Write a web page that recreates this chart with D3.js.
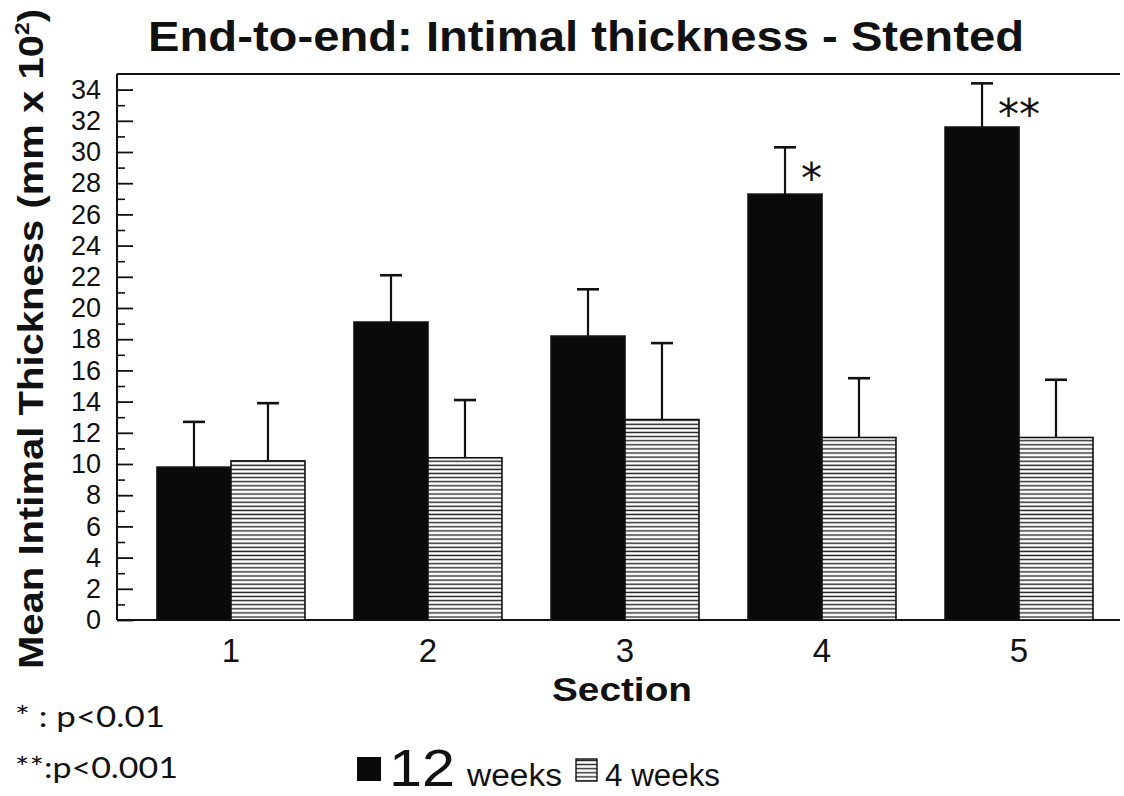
<!DOCTYPE html>
<html>
<head>
<meta charset="utf-8">
<script src="https://cdn.jsdelivr.net/npm/d3@7"></script>
<style>
  body { margin: 0; background: #fff; }
  text { font-family: "Liberation Sans", Arial, sans-serif; fill: #111; }
</style>
</head>
<body>
<svg id="chart" width="1124" height="796"></svg>
<script>
// values (mm x 10^2)
var sections = ["1", "2", "3", "4", "5"];
var mean12 = [9.8, 19.1, 18.2, 27.3, 31.6];
var err12  = [2.9, 3.0, 3.0, 3.0, 2.8];
var mean4  = [10.2, 10.4, 12.85, 11.7, 11.7];
var err4   = [3.7, 3.7, 4.9, 3.8, 3.7];
var sigMarks = ["", "", "", "*", "**"];
var groups = ["12 weeks", "4 weeks"];
var yTicks = d3.range(0, 35, 2);

var svg = d3.select("#chart");
var plotLeft = 117, plotRight = 1120, plotTop = 74, plotBottom = 620;

// hatch for the 4 week bars
var defs = svg.append("defs");
var pat = defs.append("pattern")
  .attr("id", "hatch")
  .attr("patternUnits", "userSpaceOnUse")
  .attr("width", 8).attr("height", 4.1);
pat.append("rect").attr("width", 8).attr("height", 4.1).attr("fill", "#fff");
pat.append("line")
  .attr("x1", 0).attr("x2", 8).attr("y1", 2).attr("y2", 2)
  .attr("stroke", "#222").attr("stroke-width", 1.4);

var y = d3.scaleLinear().domain([0, 35]).range([plotBottom, plotTop]);
var x = d3.scaleBand().domain(sections).range([157, 1093])
  .paddingInner(0.249).paddingOuter(0);
var xSub = d3.scaleBand().domain(groups).range([0, x.bandwidth()]);

// frame: top line and baseline
svg.append("line").attr("x1", plotLeft).attr("x2", plotRight)
  .attr("y1", plotTop).attr("y2", plotTop).attr("stroke", "#111").attr("stroke-width", 2);
svg.append("line").attr("x1", plotLeft).attr("x2", plotRight)
  .attr("y1", plotBottom).attr("y2", plotBottom).attr("stroke", "#111").attr("stroke-width", 2);

// minor ticks every 1
svg.append("g")
  .attr("transform", "translate(" + plotLeft + ",0)")
  .call(d3.axisLeft(y).tickValues(d3.range(1, 35, 2)).tickSize(-8).tickFormat(""))
  .call(function(g) { g.select(".domain").remove(); })
  .selectAll("line").attr("stroke", "#111").attr("stroke-width", 1.6);

// major ticks + labels
var yAxis = svg.append("g")
  .attr("transform", "translate(" + plotLeft + ",0)")
  .call(d3.axisLeft(y).tickValues(yTicks).tickSize(-16).tickPadding(16).tickSizeOuter(0));
yAxis.select(".domain").attr("stroke", "#111").attr("stroke-width", 2)
  .attr("d", "M0," + plotTop + "V" + plotBottom);
yAxis.selectAll(".tick line").attr("stroke", "#111").attr("stroke-width", 1.8);
yAxis.selectAll(".tick text")
  .style("font-size", "27px").style("font-family", "Liberation Sans, Arial").attr("fill", "#111");

// x labels
var xAxis = svg.append("g")
  .attr("transform", "translate(0," + plotBottom + ")")
  .call(d3.axisBottom(x).tickSize(0).tickPadding(19));
xAxis.select(".domain").remove();
xAxis.selectAll(".tick text")
  .style("font-size", "33px").style("font-family", "Liberation Sans, Arial").attr("fill", "#111");

// bars
var rows = sections.map(function(s, i) {
  return [
    { sec: s, grp: groups[0], v: mean12[i], e: err12[i], sig: sigMarks[i] },
    { sec: s, grp: groups[1], v: mean4[i], e: err4[i], sig: "" }
  ];
});

var g = svg.selectAll("g.section").data(rows).join("g")
  .attr("class", "section")
  .attr("transform", function(d) { return "translate(" + x(d[0].sec) + ",0)"; });

// error bars first (behind the bars)
g.selectAll("line.err").data(function(d) { return d; }).join("line")
  .attr("class", "err")
  .attr("x1", function(d) { return xSub(d.grp) + xSub.bandwidth() / 2; })
  .attr("x2", function(d) { return xSub(d.grp) + xSub.bandwidth() / 2; })
  .attr("y1", function(d) { return y(d.v); })
  .attr("y2", function(d) { return y(d.v + d.e); })
  .attr("stroke", "#111").attr("stroke-width", 2.2);
g.selectAll("line.cap").data(function(d) { return d; }).join("line")
  .attr("class", "cap")
  .attr("x1", function(d) { return xSub(d.grp) + xSub.bandwidth() / 2 - 11; })
  .attr("x2", function(d) { return xSub(d.grp) + xSub.bandwidth() / 2 + 11; })
  .attr("y1", function(d) { return y(d.v + d.e); })
  .attr("y2", function(d) { return y(d.v + d.e); })
  .attr("stroke", "#111").attr("stroke-width", 2.6);

g.selectAll("rect").data(function(d) { return d; }).join("rect")
  .attr("x", function(d) { return xSub(d.grp); })
  .attr("width", xSub.bandwidth())
  .attr("y", function(d) { return y(d.v); })
  .attr("height", function(d) { return y(0) - y(d.v); })
  .attr("fill", function(d) { return d.grp === groups[0] ? "#0a0a0a" : "url(#hatch)"; })
  .attr("stroke", "#111").attr("stroke-width", 1.6);

// significance stars
g.selectAll("text.sig").data(function(d) { return d.filter(function(r) { return r.sig; }); })
  .join("text")
  .attr("class", "sig")
  .attr("x", function(d) { return xSub(d.grp) + xSub.bandwidth() / 2 + 16; })
  .attr("y", function(d) { return y(d.v + d.e) + 46; })
  .style("font-family", "DejaVu Sans, sans-serif")
  .style("font-size", "42px")
  .text(function(d) { return d.sig; });

// title
svg.append("text")
  .attr("x", 586).attr("y", 51)
  .attr("text-anchor", "middle")
  .attr("textLength", 876).attr("lengthAdjust", "spacingAndGlyphs")
  .style("font-size", "42px").style("font-weight", "bold")
  .text("End-to-end: Intimal thickness - Stented");

// y label
var yl = svg.append("text")
  .attr("transform", "translate(43,339) rotate(-90)")
  .attr("text-anchor", "middle")
  .attr("textLength", 660).attr("lengthAdjust", "spacingAndGlyphs")
  .style("font-size", "35px").style("font-weight", "bold");
yl.append("tspan").text("Mean Intimal Thickness (mm x 10");
yl.append("tspan").attr("dy", -14).style("font-size", "20px").text("2");
yl.append("tspan").attr("dy", 14).text(")");

// x label
svg.append("text")
  .attr("x", 622).attr("y", 701)
  .attr("text-anchor", "middle")
  .attr("textLength", 140).attr("lengthAdjust", "spacingAndGlyphs")
  .style("font-size", "33px").style("font-weight", "bold")
  .text("Section");

// footnotes
svg.append("text").attr("x", 15).attr("y", 727)
  .attr("textLength", 150).attr("lengthAdjust", "spacingAndGlyphs")
  .style("font-family", "Lato, sans-serif")
  .style("font-size", "29px").text("* : p<0.01");
svg.append("text").attr("x", 15).attr("y", 778)
  .attr("textLength", 163).attr("lengthAdjust", "spacingAndGlyphs")
  .style("font-family", "Lato, sans-serif")
  .style("font-size", "29px").text("**:p<0.001");

// legend
var legend = svg.append("g");
legend.append("rect").attr("x", 357).attr("y", 757).attr("width", 24).attr("height", 24)
  .attr("fill", "#0a0a0a");
legend.append("text").attr("x", 389).attr("y", 786)
  .attr("textLength", 66).attr("lengthAdjust", "spacingAndGlyphs")
  .style("font-size", "52px").text("12");
legend.append("text").attr("x", 467).attr("y", 786)
  .attr("textLength", 95).attr("lengthAdjust", "spacingAndGlyphs")
  .style("font-size", "31px").text("weeks");
legend.append("rect").attr("x", 576).attr("y", 759).attr("width", 21).attr("height", 22)
  .attr("fill", "url(#hatch)").attr("stroke", "#111").attr("stroke-width", 1.4);
legend.append("text").attr("x", 605).attr("y", 786)
  .attr("textLength", 115).attr("lengthAdjust", "spacingAndGlyphs")
  .style("font-size", "31px").text("4 weeks");
</script>
</body>
</html>
